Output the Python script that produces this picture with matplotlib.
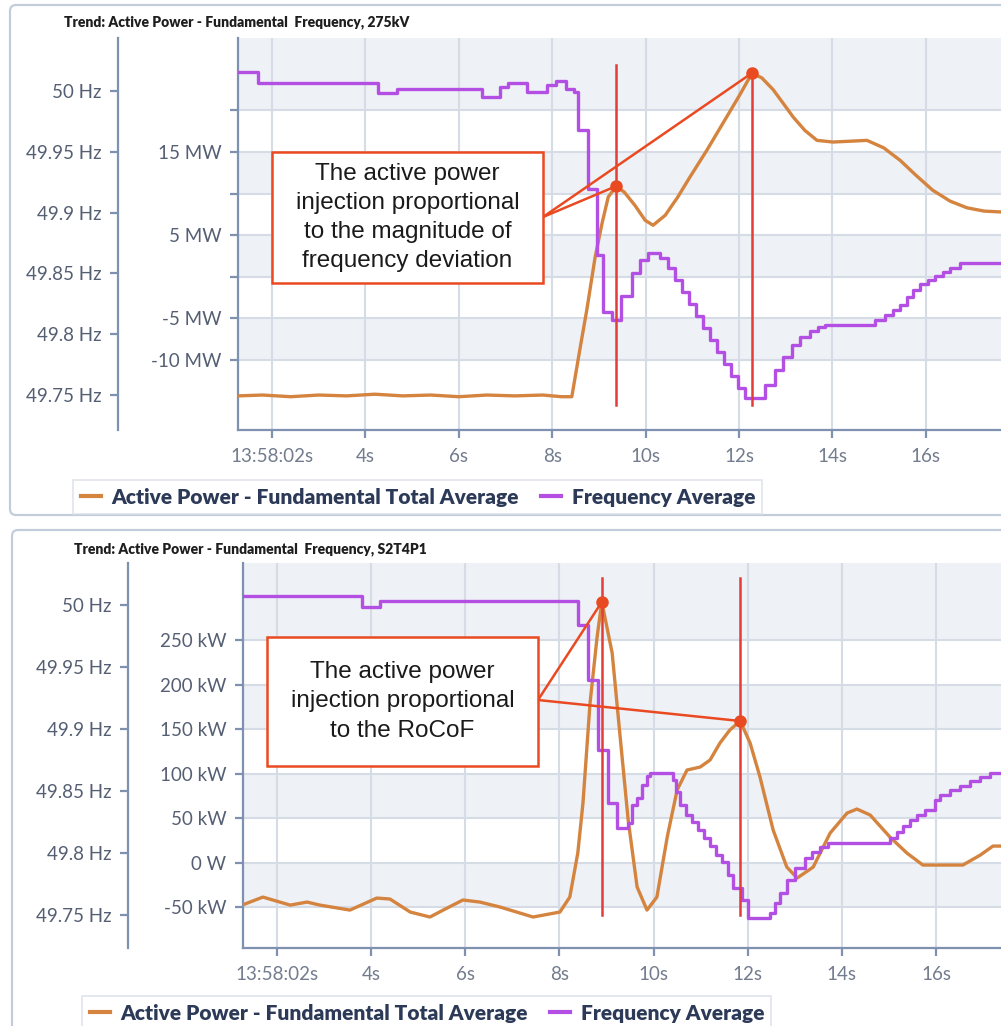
import matplotlib.pyplot as plt
from matplotlib.patches import Rectangle, FancyBboxPatch
from matplotlib.lines import Line2D

W, H = 1001, 1026

# ---- 275kV trend -------------------------------------------------------
t_pow_a = [1.27, 1.8, 2.4, 3.0, 3.6, 4.2, 4.8, 5.4, 6.0, 6.6, 7.2, 7.8, 8.2, 8.42,
           8.59, 8.74, 8.92, 9.07, 9.20, 9.37, 9.54, 9.77, 9.99, 10.16, 10.42,
           10.69, 10.95, 11.31, 11.66, 12.02, 12.28, 12.49, 12.73, 12.94, 13.16,
           13.41, 13.67, 14.01, 14.38, 14.74, 15.10, 15.45, 15.79, 16.15, 16.52,
           16.88, 17.25, 17.61]
pow_a = [-14.3, -14.2, -14.4, -14.2, -14.3, -14.1, -14.3, -14.2, -14.4, -14.2,
         -14.3, -14.2, -14.4, -14.4, -8.8, -4.0, 2.4, 6.5, 9.6, 10.9, 10.2, 8.6,
         6.8, 6.2, 7.4, 9.6, 12.0, 15.2, 18.5, 21.9, 24.5, 23.9, 22.5, 20.9, 19.2,
         17.6, 16.4, 16.2, 16.3, 16.4, 15.5, 14.0, 12.2, 10.4, 9.1, 8.3, 7.9, 7.8]

t_freq_a = [1.27, 1.70, 4.27, 4.68, 6.50, 6.88, 7.05, 7.46, 7.89, 8.08, 8.30, 8.47,
            8.55, 8.77, 8.96, 9.09, 9.28, 9.47, 9.71, 9.88, 10.05, 10.31, 10.48,
            10.63, 10.78, 10.93, 11.08, 11.23, 11.38, 11.53, 11.68, 11.83, 11.98,
            12.13, 12.56, 12.77, 12.94, 13.13, 13.31, 13.52, 13.69, 13.84, 14.91,
            15.13, 15.30, 15.45, 15.60, 15.73, 15.88, 16.05, 16.20, 16.37, 16.52,
            16.74, 17.61]
freq_a = [50.016, 50.007, 49.998, 50.002, 49.995, 50.003, 50.007, 49.999, 50.005,
          50.008, 50.002, 49.999, 49.968, 49.919, 49.865, 49.818, 49.812, 49.831,
          49.850, 49.861, 49.867, 49.863, 49.8545, 49.8446, 49.8348, 49.8249,
          49.8151, 49.8052, 49.7953, 49.7855, 49.7756, 49.7657, 49.7559, 49.7476,
          49.7583, 49.7707, 49.7813, 49.7912, 49.7978, 49.8027, 49.8060, 49.8077,
          49.8118, 49.8159, 49.8200, 49.8241, 49.8307, 49.8364, 49.8414, 49.8446,
          49.8479, 49.8512, 49.8545, 49.8586, 49.8586]

# ---- S2T4P1 trend ------------------------------------------------------
t_pow_b = [1.26, 1.70, 2.28, 2.64, 2.91, 3.55, 4.12, 4.40, 4.83, 5.25, 5.53, 5.95,
           6.31, 6.74, 7.44, 8.01, 8.22, 8.39, 8.50, 8.65, 8.80, 8.90, 9.12, 9.29,
           9.46, 9.65, 9.86, 10.07, 10.29, 10.50, 10.71, 10.99, 11.20, 11.41, 11.62,
           11.84, 12.05, 12.26, 12.54, 12.83, 13.05, 13.39, 13.75, 14.11, 14.32,
           14.60, 15.02, 15.38, 15.72, 16.23, 16.57, 16.94, 17.21, 17.38]
pow_b = [-47.8, -38.8, -47.8, -44.4, -47.8, -53.4, -39.9, -41.0, -55.6, -61.2,
         -53.4, -42.1, -44.4, -50.0, -61.2, -55.6, -38.8, 10.7, 66.9, 179.2, 253.4,
         292.7, 235.4, 141.0, 47.8, -27.5, -53.4, -38.8, 28.7, 81.5, 103.9, 107.3,
         115.2, 134.3, 148.9, 159.0, 134.3, 96.1, 36.5, -5.1, -17.4, -5.1, 33.1,
         55.6, 60.1, 53.4, 28.7, 10.7, -2.8, -2.8, -2.8, 8.4, 18.5, 18.5]

t_freq_b = [1.28, 3.81, 4.19, 8.40, 8.61, 8.82, 9.03, 9.22, 9.46, 9.54, 9.65, 9.75,
            9.86, 9.92, 10.41, 10.48, 10.56, 10.69, 10.82, 10.94, 11.07, 11.20,
            11.33, 11.45, 11.58, 11.69, 11.88, 12.01, 12.47, 12.58, 12.69, 12.84,
            13.01, 13.22, 13.37, 13.54, 13.71, 15.02, 15.17, 15.30, 15.45, 15.60,
            15.77, 15.98, 16.09, 16.30, 16.51, 16.72, 16.94, 17.15, 17.38]
freq_b = [50.0073, 49.9984, 50.0032, 49.9839, 49.9396, 49.8831, 49.8404, 49.8203,
          49.8243, 49.8388, 49.8444, 49.8549, 49.8622, 49.8646, 49.8590, 49.8493,
          49.8388, 49.8307, 49.8251, 49.8186, 49.8122, 49.8057, 49.7985, 49.7928,
          49.7824, 49.7719, 49.7622, 49.7477, 49.7518, 49.7598, 49.7679, 49.7784,
          49.7880, 49.7961, 49.8009, 49.8050, 49.8082, 49.8122, 49.8170, 49.8219,
          49.8267, 49.8307, 49.8348, 49.8428, 49.8469, 49.8509, 49.8541, 49.8581,
          49.8614, 49.8646, 49.8646]

x_ticks = [2, 4, 6, 8, 10, 12, 14, 16]
x_labels = ["13:58:02s", "4s", "6s", "8s", "10s", "12s", "14s", "16s"]
hz_ticks = [50.0, 49.95, 49.9, 49.85, 49.8, 49.75]
hz_labels = ["50 Hz", "49.95 Hz", "49.9 Hz", "49.85 Hz", "49.8 Hz", "49.75 Hz"]
mw_ticks = [20, 15, 10, 5, 0, -5, -10]
mw_labels = ["", "15 MW", "", "5 MW", "", "-5 MW", "-10 MW"]
kw_ticks = [250, 200, 150, 100, 50, 0, -50]
kw_labels = ["250 kW", "200 kW", "150 kW", "100 kW", "50 kW", "0 W", "-50 kW"]

ORANGE = "#d4843f"
PURPLE = "#b44fe4"
RED_V = "#e43c36"
RED_A = "#ea4a21"
BAND = "#eef1f6"
GRID = "#d6dce6"
SPINE = "#7f91b0"
TICK_TXT = "#555f73"
NAVY = "#2c3a58"
FRAME = "#c2ccda"

plt.rcParams["font.family"] = ["Lato", "DejaVu Sans"]

fig = plt.figure(figsize=(W / 100, H / 100), dpi=100)


def frac_box(x0, y0, x1, y1):
    return [x0 / W, 1 - y1 / H, (x1 - x0) / W, (y1 - y0) / H]


def frac_pt(x, y):
    return (x / W, 1 - y / H)


def trend(box, hz_gap, xlim, plim, flim, bands, pticks, plabels,
          t_p, p, t_f, f, peak_times, vspan, note_box, note, note_anchor,
          title, title_xy, legend_xy):
    ax = fig.add_axes(frac_box(*box))
    for lo, hi in bands:
        ax.axhspan(lo, hi, color=BAND, lw=0, zorder=0)
    ax.plot(t_p, p, color=ORANGE, lw=2.4, zorder=3, solid_capstyle="round")
    ax.set_xlim(xlim)
    ax.set_ylim(plim)
    ax.set_xticks(x_ticks, x_labels)
    ax.set_yticks(pticks, plabels)
    ax.grid(True, color=GRID, lw=1.5)
    ax.set_axisbelow(True)
    for s in ("top", "right"):
        ax.spines[s].set_visible(False)
    for s in ("left", "bottom"):
        ax.spines[s].set_color(SPINE)
        ax.spines[s].set_linewidth(1.6)
    ax.tick_params(colors=SPINE, labelcolor=TICK_TXT, labelsize=13.5,
                   length=6, width=1.6)
    ax.tick_params(axis="y", pad=6)
    ax.tick_params(axis="x", pad=7, labelcolor="#727c8e")

    ax2 = ax.twinx()
    ax2.step(t_f, f, where="post", color=PURPLE, lw=2.4)
    ax2.set_ylim(flim)
    ax2.set_xlim(xlim)
    ax2.yaxis.tick_left()
    ax2.set_yticks(hz_ticks, hz_labels)
    for s in ("top", "right", "bottom"):
        ax2.spines[s].set_visible(False)
    ax2.spines["left"].set_visible(True)
    ax2.spines["left"].set_position(("outward", hz_gap * 72 / 100))
    ax2.spines["left"].set_color(SPINE)
    ax2.spines["left"].set_linewidth(1.6)
    ax2.tick_params(colors=SPINE, labelcolor=TICK_TXT, labelsize=13.5,
                    length=6, width=1.6, pad=6)

    # markers on the power peaks, with guide lines and callout
    for tp, lo, hi in zip(peak_times, vspan[0], vspan[1]):
        pv = p[t_p.index(tp)]
        ax2.plot([tp, tp], [lo, hi], color=RED_V, lw=1.8,
                 transform=ax.transData, zorder=4)
        ax2.annotate("", xy=(tp, pv), xycoords=ax.transData,
                     xytext=frac_pt(*note_anchor), textcoords="figure fraction",
                     arrowprops=dict(arrowstyle="-", color=RED_A, lw=1.8,
                                     shrinkA=0, shrinkB=0), zorder=5)
        ax2.plot(tp, pv, "o", ms=8, color=RED_A, mec=RED_A,
                 transform=ax.transData, zorder=6)

    x0, y0, x1, y1 = note_box
    fig.add_artist(Rectangle(frac_pt(x0, y1), (x1 - x0) / W, (y1 - y0) / H,
                             transform=fig.transFigure, fc="white", ec=RED_A,
                             lw=1.8, zorder=5))
    fig.text(*frac_pt((x0 + x1) / 2, (y0 + y1) / 2), note, ha="center",
             va="center", fontsize=17.5, family="Liberation Sans",
             color="#1a1a1a", linespacing=1.42, zorder=6)

    fig.text(*frac_pt(*title_xy), title, ha="left", va="center",
             fontsize=10, fontweight="heavy", color="#1e1e1e")

    handles = [Line2D([], [], color=ORANGE, lw=3),
               Line2D([], [], color=PURPLE, lw=3)]
    leg = fig.legend(handles, ["Active Power - Fundamental Total Average",
                               "Frequency Average"],
                     loc="upper left", bbox_to_anchor=frac_pt(*legend_xy),
                     ncol=2, frameon=True, fancybox=False, edgecolor="#d9dfe8",
                     handlelength=0.95, handletextpad=0.5, columnspacing=1.1,
                     borderpad=0.35, prop={"weight": "heavy", "size": 15})
    leg.get_frame().set_linewidth(1.2)
    for txt in leg.get_texts():
        txt.set_color(NAVY)


# outer panel frames
for fx0, fy0, fx1, fy1 in [(10, 5, 1012, 515), (12, 530, 1012, 1040)]:
    fig.add_artist(FancyBboxPatch(frac_pt(fx0, fy1), (fx1 - fx0) / W,
                                  (fy1 - fy0) / H,
                                  boxstyle="round,pad=0,rounding_size=0.006",
                                  transform=fig.transFigure, fc="none",
                                  ec=FRAME, lw=1.6, zorder=-1))

trend(box=(238, 38, 1001, 430), hz_gap=120, xlim=(1.272, 17.61),
      plim=(-18.4, 28.7), flim=(49.7212, 50.0436),
      bands=[(20, 28.7), (10, 15), (0, 5), (-10, -5)],
      pticks=mw_ticks, plabels=mw_labels,
      t_p=t_pow_a, p=pow_a, t_f=t_freq_a, f=freq_a,
      peak_times=[9.37, 12.28], vspan=([-15.4, -15.4], [25.5, 24.5]),
      note_box=(272, 152, 543, 283),
      note="The active power\ninjection proportional\nto the magnitude of\nfrequency deviation",
      note_anchor=(543, 217),
      title="Trend: Active Power - Fundamental  Frequency, 275kV",
      title_xy=(64, 22), legend_xy=(63, 470))

trend(box=(243, 563, 1001, 948), hz_gap=115, xlim=(1.278, 17.38),
      plim=(-96, 336.5), flim=(49.7234, 50.034),
      bands=[(250, 336.5), (150, 200), (50, 100), (-50, 0)],
      pticks=kw_ticks, plabels=kw_labels,
      t_p=t_pow_b, p=pow_b, t_f=t_freq_b, f=freq_b,
      peak_times=[8.90, 11.84], vspan=([-59, -59], [320, 320]),
      note_box=(267, 637, 538, 766),
      note="The active power\ninjection proportional\nto the RoCoF",
      note_anchor=(538, 700),
      title="Trend: Active Power - Fundamental  Frequency, S2T4P1",
      title_xy=(74, 549), legend_xy=(72, 986))

fig.savefig("out.png", dpi=100)
